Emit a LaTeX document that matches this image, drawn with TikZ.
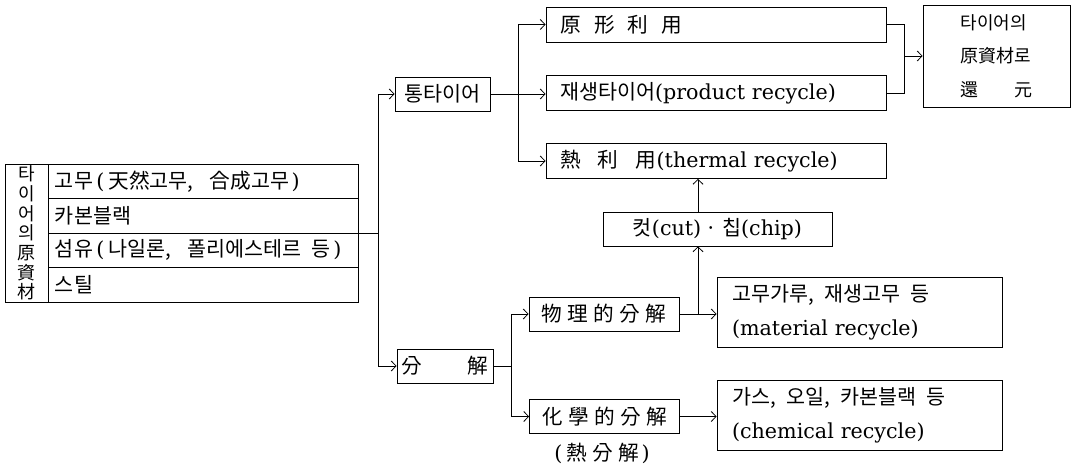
\documentclass[tikz,border=0pt]{standalone}
\usepackage{fontspec}
\setmainfont{Noto Sans CJK KR}
\newfontfamily\lat{DejaVu Serif}
\usetikzlibrary{arrows.meta}
\newcommand\lpar{{\lat(}\hspace{3pt}}
\newcommand\rpar{\hspace{2pt}{\lat)}}
\tikzset{
  every node/.style={font=\fontsize{15.5pt}{18pt}\selectfont},
  box/.style={draw, line width=0.6pt, inner ysep=0pt, minimum height=25.5pt},
  link/.style={line width=0.6pt},
  arr/.style={link, -{Straight Barb[length=3.6pt,width=7.5pt,line width=0.6pt]}},
  rbox/.style={box, minimum width=255pt, minimum height=26.25pt, text width=234pt, inner xsep=10.5pt, align=left},
  row/.style={box, minimum width=232.5pt, minimum height=25.875pt, text width=222pt, inner xsep=5.25pt, align=left},
  obox/.style={box, minimum width=213.75pt, minimum height=52.5pt, text width=191.25pt, inner xsep=11.25pt, align=left,
    font=\fontsize{15.5pt}{25.5pt}\selectfont},
}
\begin{document}
\begin{tikzpicture}[x=0.75pt,y=-0.75pt]
\useasboundingbox (0,0) rectangle (1072,467);

% raw materials table
\node[box, minimum width=32.25pt, minimum height=103.5pt, inner sep=0pt, align=center,
  font=\fontsize{13.5pt}{14.75pt}\selectfont] (tcol) at (26.5,233)
  {타\\이\\어\\의\\原\\資\\材};
\node[row] (r1) at (203,181.25) {고무\,\lpar 天然고무,\;\, 合成고무\rpar};
\node[row] (r2) at (203,215.75) {카본블랙};
\node[row] (r3) at (203,250.25) {섬유\,\lpar 나일론,\;\, 폴리에스테르\, 등\rpar};
\node[row] (r4) at (203,284.75) {스틸};

% whole tyre branch
\node[box, minimum width=71.25pt] (tong) at (442.5,94) {통타이어};
\node[rbox] (orig) at (716,24.5) {原\hspace{10pt}形\hspace{10pt}利\hspace{10pt}用};
\node[rbox] (regen) at (716,93) {재생타이어{\lat(product recycle)}};
\node[rbox] (heat) at (716,161) {熱\hspace{13pt}利\hspace{13pt}用{\lat(thermal recycle)}};
\node[box, minimum width=110.25pt, minimum height=76.5pt, align=left,
  font=\fontsize{13.5pt}{25pt}\selectfont] (res) at (996.5,56)
  {타이어의\\原資材로\\還\hspace{2em}元};

% decomposition branch
\node[box, minimum width=171.75pt] (cut) at (717.5,229) {컷{\lat(cut)}\ ·\ 칩{\lat(chip)}};
\node[box, minimum width=72pt] (bun) at (445,366) {分\hspace{2.2em}解};
\node[box, minimum width=112.5pt] (phys) at (604,314) {物\hspace{4pt}理\hspace{4pt}的\hspace{4pt}分\hspace{4pt}解};
\node[box, minimum width=112.5pt] (chem) at (604.5,416.5) {化\hspace{4pt}學\hspace{4pt}的\hspace{4pt}分\hspace{4pt}解};
\node (pyro) at (602,453) {\lpar 熱\hspace{4pt}分\hspace{4pt}解\rpar};
\node[obox] (rub) at (859.5,312) {고무가루,\, 재생고무\, 등\\{\lat(material recycle)}};
\node[obox] (gas) at (859.5,415) {가스,\, 오일,\, 카본블랙\, 등\\{\lat(chemical recycle)}};

% junction points
\coordinate (trunk) at (378,0);
\coordinate (br1) at (518,0);
\coordinate (mg) at (904,56);
\coordinate (br2) at (511,0);
\coordinate (jc) at (698,0);

% connectors
\draw[arr] (r2.south east) -- (r2.south east -| trunk) |- (tong.west);
\draw[arr] (r2.south east -| trunk) |- (bun.west);

\draw[link] (tong.east) -- (tong.east -| br1);
\draw[arr] (tong.east -| br1) |- (orig.west);
\draw[arr] (tong.east) -- (tong.east -| regen.west);
\draw[arr] (tong.east -| br1) |- (heat.west);

\draw[link] (orig.east) -| (mg |- regen.east) -- (regen.east);
\draw[arr] (mg) -- (mg -| res.west);

\draw[link] (bun.east) -- (bun.east -| br2);
\draw[arr] (bun.east -| br2) |- (phys.west);
\draw[arr] (bun.east -| br2) |- (chem.west);

\draw[arr] (phys.east) -- (phys.east -| rub.west);
\draw[arr] (phys.east -| jc) -- (cut.south -| jc);
\draw[arr] (cut.north -| jc) -- (heat.south -| jc);
\draw[arr] (chem.east) -- (chem.east -| gas.west);
\end{tikzpicture}
\end{document}
